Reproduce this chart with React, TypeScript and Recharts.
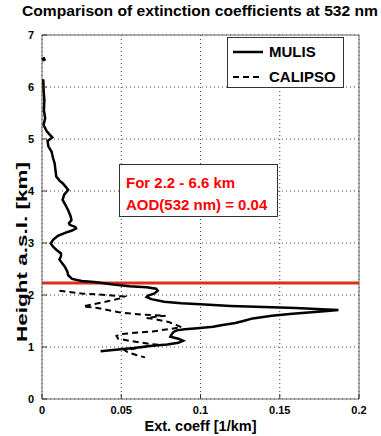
import React from 'react';
import {
  ScatterChart,
  Scatter,
  XAxis,
  YAxis,
  CartesianGrid,
  ReferenceLine,
  Legend,
} from 'recharts';

// MULIS profile (height km, extinction 1/km)
const mulisHeight = [
  6.15, 5.95, 5.75, 5.55, 5.4, 5.27, 5.15, 5.08, 5.03, 4.96, 4.86, 4.76, 4.63, 4.53, 4.4, 4.28,
  4.2, 4.15, 4.08, 4.02, 3.93, 3.83, 3.72, 3.63, 3.52, 3.44, 3.38, 3.35, 3.31, 3.28, 3.24, 3.2,
  3.14, 3.06, 2.99, 2.93, 2.87, 2.8, 2.75, 2.68, 2.6, 2.54, 2.45, 2.38, 2.31, 2.27, 2.25, 2.2,
  2.17, 2.15, 2.12, 2.08, 2.03, 1.99, 1.96, 1.92, 1.87, 1.84, 1.82, 1.79, 1.77, 1.75, 1.72, 1.71,
  1.69, 1.67, 1.64, 1.6, 1.55, 1.5, 1.46, 1.42, 1.39, 1.36, 1.34, 1.32, 1.29, 1.25, 1.2, 1.16,
  1.12, 1.08, 1.05, 1.02, 0.98, 0.95, 0.92,
];
const mulisExt = [
  0.0008, 0.001, 0.0015, 0.0012, 0.002, 0.001, 0.003, 0.005, 0.0065, 0.0035, 0.004, 0.006, 0.007,
  0.008, 0.0085, 0.009, 0.011, 0.013, 0.015, 0.0165, 0.014, 0.013, 0.015, 0.0165, 0.018, 0.0186,
  0.017, 0.0175, 0.021, 0.0215, 0.019, 0.015, 0.01, 0.007, 0.0055, 0.007, 0.009, 0.012, 0.012,
  0.011, 0.013, 0.0145, 0.016, 0.0165, 0.019, 0.025, 0.033, 0.045, 0.055, 0.066, 0.072, 0.073,
  0.071, 0.067, 0.066, 0.069, 0.077, 0.088, 0.1, 0.119, 0.14, 0.16, 0.18, 0.187, 0.18, 0.17,
  0.158, 0.145, 0.133, 0.127, 0.122, 0.113, 0.108, 0.098, 0.09, 0.085, 0.083, 0.082, 0.081,
  0.086, 0.089, 0.086, 0.079, 0.068, 0.058, 0.048, 0.037,
];
// isolated MULIS value near the top
const mulisTopHeight = [6.57, 6.5];
const mulisTopExt = [0.0006, 0.0016];

// CALIPSO profile
const calipsoHeight = [
  2.08, 2.03, 2.0, 1.97, 1.94, 1.87, 1.78, 1.75, 1.66, 1.62, 1.6, 1.56, 1.53, 1.48, 1.42, 1.38,
  1.3, 1.25, 1.21, 1.16, 1.12, 1.06, 1.04, 1.0, 0.94, 0.9, 0.84, 0.8,
];
const calipsoExt = [
  0.011, 0.025, 0.04, 0.052, 0.05, 0.04, 0.026, 0.035, 0.05, 0.064, 0.078, 0.066, 0.072, 0.08,
  0.085, 0.088, 0.07, 0.05, 0.047, 0.048, 0.055, 0.068, 0.074, 0.064, 0.052, 0.054, 0.06, 0.065,
];

const xTicks = [0, 0.05, 0.1, 0.15, 0.2];
const yTicks = [0, 1, 2, 3, 4, 5, 6, 7];
const aodLayerTop = 2.23;

const toPoints = (h: number[], e: number[]) => h.map((v, i) => ({ x: e[i], h: v }));

const FONT = '"Liberation Sans", Arial, Helvetica, sans-serif';

const XTick = ({ x, y, payload }: any) => (
  <g>
    <line x1={x} x2={x} y1={y - 7} y2={y - 12} stroke="#333" />
    <text x={x} y={y} dy="0.71em" textAnchor="middle" fontSize={11} fontWeight="bold" fill="#000" fontFamily={FONT}>
      {payload.value}
    </text>
  </g>
);

const YTick = ({ x, y, payload }: any) => (
  <g>
    <line x1={x + 8} x2={x + 13} y1={y} y2={y} stroke="#333" />
    <text x={x} y={y} dy="0.36em" textAnchor="end" fontSize={11} fontWeight="bold" fill="#000" fontFamily={FONT}>
      {payload.value}
    </text>
  </g>
);

const LegendBox = () => (
  <div
    style={{
      width: 115,
      height: 49,
      border: '1px solid #333',
      background: '#fff',
      position: 'relative',
    }}
  >
    <svg width={115} height={49} style={{ position: 'absolute', left: 0, top: 0 }}>
      <line x1={5} x2={35} y1={14} y2={14} stroke="#000" strokeWidth={2.5} />
      <line x1={5} x2={35} y1={39} y2={39} stroke="#000" strokeWidth={2} strokeDasharray="6 4" />
      <text x={41} y={14} dy="0.36em" fontFamily={FONT} fontWeight="bold" fontSize={15}>MULIS</text>
      <text x={41} y={39} dy="0.36em" fontFamily={FONT} fontWeight="bold" fontSize={15}>CALIPSO</text>
    </svg>
  </div>
);

const App = () => {
  return (
    <div style={{ position: 'absolute', left: 0, top: 0, width: 381, height: 436, background: '#fff' }}>
      <svg width={381} height={436} style={{ position: 'absolute', left: 0, top: 0 }}>
        <text
          x={200}
          y={16}
          textAnchor="middle"
          fontFamily={FONT}
          fontWeight="bold"
          fontSize={15}
          textLength={356}
          lengthAdjust="spacingAndGlyphs"
        >
          Comparison of extinction coefficients at 532 nm
        </text>
        <text
          transform="translate(22 252) rotate(-90)"
          x={0}
          y={0}
          dy="0.36em"
          textAnchor="middle"
          fontFamily={FONT}
          fontWeight="bold"
          fontSize={15}
          textLength={180}
          lengthAdjust="spacingAndGlyphs"
        >
          Height a.s.l. [km]
        </text>
      </svg>
      <ScatterChart
        width={381}
        height={436}
        margin={{ top: 35, right: 22, left: 0, bottom: 0 }}
        style={{ position: 'absolute', left: 0, top: 0 }}
      >
        <CartesianGrid strokeDasharray="1 3" stroke="#444" />
        <XAxis
          type="number"
          dataKey="x"
          domain={[0, 0.2]}
          ticks={xTicks}
          height={37}
          tickSize={4}
          tickMargin={3}
          tickLine={false}
          tick={<XTick />}
          stroke="#666"
          label={{
            value: 'Ext. coeff [1/km]',
            position: 'insideBottom',
            offset: 5,
            fill: '#000',
            fontSize: 14.5,
            fontWeight: 'bold',
            fontFamily: FONT,
          }}
        />
        <YAxis
          type="number"
          dataKey="h"
          domain={[0, 7]}
          ticks={yTicks}
          width={42}
          tickSize={4}
          tickMargin={4}
          tickLine={false}
          tick={<YTick />}
          stroke="#666"
        />
        <ReferenceLine y={7} stroke="#666" />
        <ReferenceLine x={0.2} stroke="#666" />
        <ReferenceLine y={aodLayerTop} stroke="#dd2c1a" strokeWidth={3} />
        <Scatter
          name="MULIS"
          data={toPoints(mulisHeight, mulisExt)}
          line={{ stroke: '#000', strokeWidth: 2.5 }}
          lineType="joint"
          shape={() => <g />}
          isAnimationActive={false}
        />
        <Scatter
          name="MULIS top"
          data={toPoints(mulisTopHeight, mulisTopExt)}
          line={{ stroke: '#000', strokeWidth: 3.5 }}
          lineType="joint"
          shape={() => <g />}
          isAnimationActive={false}
          legendType="none"
        />
        <Scatter
          name="CALIPSO"
          data={toPoints(calipsoHeight, calipsoExt)}
          line={{ stroke: '#000', strokeWidth: 2, strokeDasharray: '6 4' }}
          lineType="joint"
          shape={() => <g />}
          isAnimationActive={false}
        />
        <Legend
          layout="vertical"
          align="center"
          verticalAlign="middle"
          content={() => <LegendBox />}
          wrapperStyle={{ position: 'absolute', left: 227, top: 37, width: 117 }}
        />
      </ScatterChart>
      <div
        style={{
          position: 'absolute',
          left: 119,
          top: 164,
          width: 159,
          height: 53,
          border: '1px solid #333',
          background: '#fff',
          color: '#ff0000',
          fontFamily: FONT,
          fontWeight: 'bold',
          fontSize: 15,
          lineHeight: '22px',
          padding: '7px 0 0 6px',
          boxSizing: 'border-box',
        }}
      >
        <div>For 2.2 - 6.6 km</div>
        <div>AOD(532 nm) = 0.04</div>
      </div>
    </div>
  );
};

export default App;
